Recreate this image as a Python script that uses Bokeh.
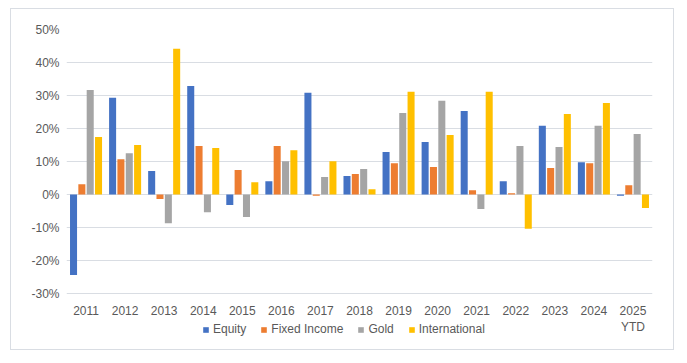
from bokeh.plotting import figure
from bokeh.models import (FactorRange, Range1d, FixedTicker, PrintfTickFormatter,
                          Legend, LegendItem, ColumnDataSource)
from bokeh.transform import dodge
from bokeh.embed import file_html
from bokeh.resources import INLINE

years = ["2011", "2012", "2013", "2014", "2015", "2016", "2017", "2018",
         "2019", "2020", "2021", "2022", "2023", "2024", "2025\nYTD"]
equity = [-24.4, 29.3, 7.1, 32.9, -3.2, 4.0, 30.8, 5.6, 12.9, 15.9, 25.3, 4.0, 20.8, 9.8, -0.4]
fixed_income = [3.1, 10.7, -1.4, 14.7, 7.4, 14.7, -0.4, 6.2, 9.5, 8.3, 1.3, 0.4, 8.0, 9.5, 2.8]
gold = [31.7, 12.5, -8.7, -5.4, -6.8, 10.1, 5.3, 7.7, 24.7, 28.4, -4.4, 14.7, 14.4, 20.8, 18.3]
international = [17.4, 15.0, 44.2, 14.1, 3.7, 13.4, 10.1, 1.6, 31.1, 18.0, 31.1, -10.4, 24.4, 27.7, -4.1]
series_names = ["Equity", "Fixed Income", "Gold", "International"]
colors = ["#4472C4", "#ED7D31", "#A5A5A5", "#FFC000"]
y_ticks = [-30, -20, -10, 0, 10, 20, 30, 40, 50]

source = ColumnDataSource(dict(year=years, equity=equity, fixed_income=fixed_income,
                               gold=gold, international=international))

TEXT = "#595959"
FONT = "Liberation Sans"

# plot area: 50% .. -30% spans 264 px; extra room below for labels + legend
PX_PER_UNIT = 264 / 80.0
EXTRA_PX = 56
p = figure(x_range=FactorRange(factors=years, range_padding=0),
           y_range=Range1d(-30 - EXTRA_PX / PX_PER_UNIT, 50),
           frame_width=586, frame_height=264 + EXTRA_PX,
           min_border_left=55, min_border_right=21, min_border_top=20, min_border_bottom=0,
           output_backend="svg", toolbar_location=None)
p.styles = {"margin-left": "10px", "margin-top": "8px", "border": "1px solid #D9DDE3"}
p.outline_line_color = None
p.background_fill_color = "white"
p.border_fill_color = "white"

offsets = [-0.32, -0.107, 0.107, 0.32]
cols = ["equity", "fixed_income", "gold", "international"]
renderers = []
for col, off, c in zip(cols, offsets, colors):
    r = p.vbar(x=dodge("year", off, range=p.x_range), top=col, bottom=0, width=0.18,
               source=source, fill_color=c, line_color=None)
    renderers.append(r)

p.yaxis.ticker = FixedTicker(ticks=y_ticks)
p.yaxis.formatter = PrintfTickFormatter(format="%d%%")
p.ygrid.ticker = FixedTicker(ticks=y_ticks)
p.ygrid.grid_line_color = "#D9DDE3"
p.ygrid.grid_line_width = 1
p.xgrid.grid_line_color = None

for ax in (p.xaxis[0], p.yaxis[0]):
    ax.axis_line_color = None
    ax.major_tick_line_color = None
    ax.minor_tick_line_color = None
    ax.major_tick_out = 0
    ax.major_tick_in = 0
    ax.minor_tick_out = 0
    ax.axis_label_standoff = 0
    ax.major_label_text_font = FONT
    ax.major_label_text_font_size = "12px"
    ax.major_label_text_color = TEXT
p.yaxis.major_label_standoff = 7
p.xaxis.major_label_standoff = 10
p.xaxis.fixed_location = -30

legend = Legend(items=[LegendItem(label=n, renderers=[r]) for n, r in zip(series_names, renderers)],
                orientation="horizontal", location=(136, 13),
                glyph_width=7, glyph_height=7, label_standoff=4, spacing=14,
                padding=0, margin=0, border_line_color=None, background_fill_alpha=0,
                label_text_font=FONT, label_text_font_size="12px", label_text_color=TEXT,
                label_height=7)
p.add_layout(legend, "center")

open("out.html", "w").write(file_html(p, INLINE))
